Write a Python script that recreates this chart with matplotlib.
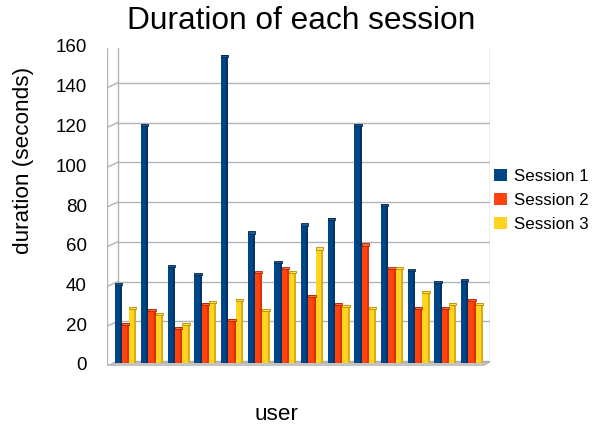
import matplotlib
matplotlib.use("Agg")
import matplotlib.pyplot as plt
import matplotlib.transforms as mtransforms
from matplotlib.patches import Patch, Polygon, Rectangle
import numpy as np

plt.rcParams['font.family'] = ['Liberation Sans', 'DejaVu Sans']

users = list(range(1, 15))
session1 = [40, 120, 49, 45, 155, 66, 51, 70, 73, 120, 80, 47, 41, 42]
session2 = [20, 27, 18, 30, 22, 46, 48, 34, 30, 60, 48, 28, 28, 32]
session3 = [28, 25, 20, 31, 32, 27, 46, 58, 29, 28, 48, 36, 30, 30]
series_names = ["Session 1", "Session 2", "Session 3"]
yticks = [0, 20, 40, 60, 80, 100, 120, 140, 160]

colors = ["#004586", "#ff420e", "#ffd320"]
side_colors = ["#00274d", "#b02800", "#b08e00"]
top_colors = ["#1a5a9c", "#ff6a40", "#ffe060"]

W, H = 593, 430
fig = plt.figure(figsize=(W / 100, H / 100), dpi=100)
ax = fig.add_axes([107 / W, (H - 366) / H, 383 / W, 318 / H])
ax.set_xlim(-0.694, 13.675)
ax.set_ylim(0, 160)
ax.axis('off')

# back wall, left wall, floor (pseudo 3D)
dx, dy = 11, 5
back = mtransforms.offset_copy(ax.transData, fig=fig, x=dx, y=dy, units='dots')
barT = mtransforms.offset_copy(ax.transData, fig=fig, x=0, y=3, units='dots')
x0, x1 = ax.get_xlim()
x1b = x1 - dx / (383 / (x1 - x0))
for v in yticks:
    ax.plot([x0, x1b], [v, v], color="#b3b3b3", lw=1.0, transform=back, zorder=1)
    p0 = ax.transData.transform((x0, v))
    ax.add_line(plt.Line2D([p0[0], p0[0] + dx], [p0[1], p0[1] + dy],
                           color="#b3b3b3", lw=1.0, transform=None, zorder=1))
ax.plot([x0, x0], [0, 160], color="#b3b3b3", lw=1.0, transform=back, zorder=1)
ax.plot([x1b, x1b], [0, 160], color="#b3b3b3", lw=1.0, transform=back, zorder=1)
ax.plot([x0, x0], [0, 160], color="#b3b3b3", lw=1.0, zorder=1)
# floor
pa = ax.transData.transform((x0, 0))
pb = ax.transData.transform((x1b, 0))
floor = Polygon([[pa[0], pa[1] - 2], [pb[0], pa[1] - 2],
                 [pb[0] + dx, pa[1] + dy - 1], [pa[0] + dx, pa[1] + dy - 1]],
                closed=True, transform=None, facecolor="#c3c3c3",
                edgecolor="#a8a8a8", lw=0.6, zorder=2)
ax.add_patch(floor)

# bars
x = np.arange(len(users))
bw = 0.275
data = [session1, session2, session3]
for k, vals in enumerate(data):
    xs = x + (k - 1) * bw
    ax.bar(xs, vals, width=bw, color=colors[k], zorder=3, linewidth=0,
           transform=barT)
    ax.bar(xs + bw * 0.36, vals, width=bw * 0.28, color=side_colors[k],
           alpha=0.5, zorder=4, linewidth=0, transform=barT)
    for xi, v in zip(xs, vals):
        ax.add_patch(Rectangle((xi - bw / 2, v - 0.9), bw, 1.1,
                               facecolor=top_colors[k], edgecolor=side_colors[k],
                               lw=0.6, zorder=5, transform=barT))

# tick labels
for v in yticks:
    ax.text(-0.694 - 20 / 26.65, v, str(v), ha='right', va='center',
            fontsize=13.5, color='black')

fig.text(301.5 / W, 1 - 21 / H, "Duration of each session", ha='center',
         va='center', fontsize=22.8)
fig.text(24 / W, 1 - 160 / H, "duration (seconds)", ha='center', va='center',
         rotation=90, fontsize=16.2)
fig.text(276 / W, 1 - 415 / H, "user", ha='center', va='center', fontsize=16.2)

handles = [Patch(facecolor=c, edgecolor='none') for c in colors]
fig.legend(handles, series_names, loc='upper left',
           bbox_to_anchor=(487 / W, 1 - 162 / H), frameon=False,
           fontsize=12.2, handlelength=0.76, handleheight=0.76,
           handletextpad=0.45, labelspacing=0.52, borderaxespad=0)

fig.savefig("out.png", dpi=100)
